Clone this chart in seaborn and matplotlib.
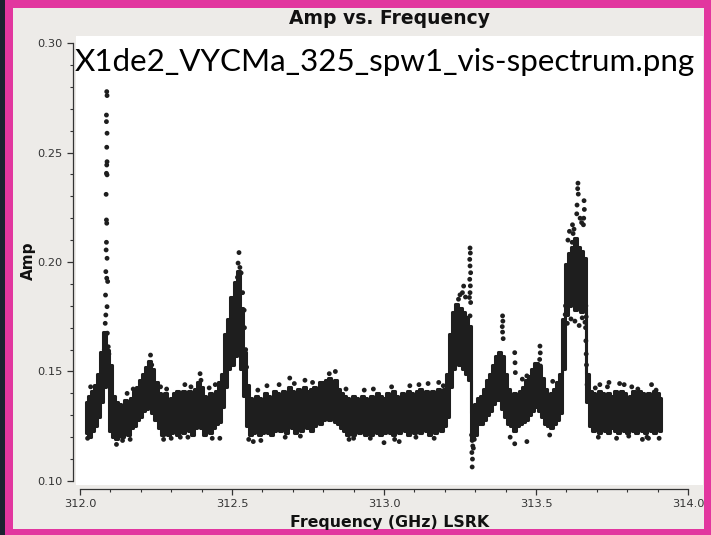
import matplotlib
matplotlib.use("Agg")
import matplotlib.pyplot as plt
from matplotlib.patches import Rectangle
from matplotlib.ticker import MultipleLocator, FormatStrFormatter
import seaborn as sns

# Channel frequencies (GHz) with the lower / upper edge of the dense amplitude cloud
chan_freq = [
    312.02, 312.03, 312.04, 312.05, 312.06, 312.07, 312.08, 312.09, 312.10, 312.11,
    312.12, 312.13, 312.14, 312.15, 312.16, 312.17, 312.18, 312.19, 312.20, 312.21,
    312.22, 312.23, 312.24, 312.25, 312.26, 312.27, 312.28, 312.29, 312.30, 312.31,
    312.32, 312.33, 312.34, 312.35, 312.36, 312.37, 312.38, 312.39, 312.40, 312.41,
    312.42, 312.43, 312.44, 312.45, 312.46, 312.47, 312.48, 312.49, 312.50, 312.51,
    312.52, 312.53, 312.54, 312.55, 312.56, 312.57, 312.58, 312.59, 312.60, 312.61,
    312.62, 312.63, 312.64, 312.65, 312.66, 312.67, 312.68, 312.69, 312.70, 312.71,
    312.72, 312.73, 312.74, 312.75, 312.76, 312.77, 312.78, 312.79, 312.80, 312.81,
    312.82, 312.83, 312.84, 312.85, 312.86, 312.87, 312.88, 312.89, 312.90, 312.91,
    312.92, 312.93, 312.94, 312.95, 312.96, 312.97, 312.98, 312.99, 313.00, 313.01,
    313.02, 313.03, 313.04, 313.05, 313.06, 313.07, 313.08, 313.09, 313.10, 313.11,
    313.12, 313.13, 313.14, 313.15, 313.16, 313.17, 313.18, 313.19, 313.20, 313.21,
    313.22, 313.23, 313.24, 313.25, 313.26, 313.27, 313.28, 313.29, 313.30, 313.31,
    313.32, 313.33, 313.34, 313.35, 313.36, 313.37, 313.38, 313.39, 313.40, 313.41,
    313.42, 313.43, 313.44, 313.45, 313.46, 313.47, 313.48, 313.49, 313.50, 313.51,
    313.52, 313.53, 313.54, 313.55, 313.56, 313.57, 313.58, 313.59, 313.60, 313.61,
    313.62, 313.63, 313.64, 313.65, 313.66, 313.67, 313.68, 313.69, 313.70, 313.71,
    313.72, 313.73, 313.74, 313.75, 313.76, 313.77, 313.78, 313.79, 313.80, 313.81,
    313.82, 313.83, 313.84, 313.85, 313.86, 313.87, 313.88, 313.89, 313.90, 313.91,
]
amp_lo = [
    0.122, 0.120, 0.123, 0.125, 0.129, 0.136, 0.143, 0.145, 0.123, 0.120,
    0.119, 0.122, 0.120, 0.123, 0.121, 0.124, 0.125, 0.128, 0.129, 0.132,
    0.133, 0.136, 0.131, 0.128, 0.124, 0.121, 0.123, 0.121, 0.122, 0.123,
    0.121, 0.123, 0.122, 0.125, 0.123, 0.121, 0.124, 0.126, 0.124, 0.121,
    0.123, 0.122, 0.124, 0.126, 0.127, 0.134, 0.143, 0.151, 0.153, 0.157,
    0.159, 0.151, 0.139, 0.125, 0.121, 0.122, 0.124, 0.121, 0.122, 0.124,
    0.122, 0.121, 0.123, 0.125, 0.123, 0.124, 0.122, 0.125, 0.124, 0.122,
    0.125, 0.123, 0.126, 0.124, 0.123, 0.125, 0.127, 0.126, 0.128, 0.129,
    0.128, 0.129, 0.127, 0.126, 0.124, 0.123, 0.121, 0.122, 0.121, 0.123,
    0.122, 0.124, 0.121, 0.122, 0.121, 0.123, 0.122, 0.121, 0.122, 0.123,
    0.122, 0.121, 0.123, 0.122, 0.124, 0.123, 0.121, 0.124, 0.122, 0.123,
    0.122, 0.124, 0.123, 0.121, 0.123, 0.122, 0.124, 0.123, 0.125, 0.129,
    0.143, 0.151, 0.154, 0.153, 0.151, 0.149, 0.146, 0.119, 0.121, 0.126,
    0.126, 0.128, 0.130, 0.132, 0.135, 0.137, 0.137, 0.133, 0.129, 0.126,
    0.125, 0.123, 0.125, 0.126, 0.127, 0.128, 0.130, 0.132, 0.134, 0.132,
    0.129, 0.126, 0.125, 0.124, 0.126, 0.128, 0.131, 0.151, 0.176, 0.180,
    0.182, 0.178, 0.181, 0.177, 0.179, 0.136, 0.125, 0.123, 0.124, 0.122,
    0.124, 0.123, 0.122, 0.124, 0.123, 0.122, 0.125, 0.123, 0.122, 0.124,
    0.123, 0.122, 0.125, 0.123, 0.122, 0.124, 0.123, 0.122, 0.124, 0.123,
]
amp_hi = [
    0.136, 0.139, 0.141, 0.144, 0.149, 0.159, 0.168, 0.160, 0.153, 0.139,
    0.136, 0.135, 0.133, 0.137, 0.135, 0.138, 0.141, 0.143, 0.146, 0.149,
    0.152, 0.155, 0.151, 0.145, 0.140, 0.138, 0.140, 0.137, 0.138, 0.140,
    0.141, 0.138, 0.141, 0.139, 0.141, 0.138, 0.142, 0.145, 0.143, 0.139,
    0.138, 0.140, 0.139, 0.141, 0.145, 0.149, 0.167, 0.174, 0.184, 0.191,
    0.196, 0.179, 0.159, 0.144, 0.138, 0.137, 0.139, 0.138, 0.137, 0.140,
    0.139, 0.138, 0.141, 0.140, 0.138, 0.141, 0.140, 0.143, 0.141, 0.139,
    0.142, 0.141, 0.143, 0.141, 0.142, 0.143, 0.142, 0.145, 0.145, 0.146,
    0.147, 0.145, 0.146, 0.142, 0.140, 0.139, 0.138, 0.137, 0.139, 0.138,
    0.137, 0.139, 0.138, 0.137, 0.139, 0.138, 0.140, 0.139, 0.138, 0.140,
    0.139, 0.141, 0.139, 0.138, 0.140, 0.139, 0.141, 0.140, 0.139, 0.141,
    0.142, 0.140, 0.141, 0.139, 0.141, 0.140, 0.142, 0.139, 0.142, 0.149,
    0.167, 0.177, 0.181, 0.179, 0.177, 0.175, 0.171, 0.131, 0.135, 0.138,
    0.139, 0.142, 0.146, 0.149, 0.153, 0.157, 0.159, 0.157, 0.149, 0.142,
    0.139, 0.140, 0.139, 0.141, 0.143, 0.146, 0.148, 0.151, 0.154, 0.152,
    0.147, 0.142, 0.139, 0.140, 0.142, 0.145, 0.149, 0.174, 0.199, 0.204,
    0.207, 0.211, 0.207, 0.205, 0.202, 0.149, 0.141, 0.140, 0.139, 0.141,
    0.140, 0.138, 0.140, 0.139, 0.141, 0.139, 0.141, 0.140, 0.138, 0.139,
    0.141, 0.139, 0.141, 0.140, 0.138, 0.140, 0.139, 0.141, 0.140, 0.138,
]

# Individual samples standing out of the dense cloud (line peaks, dips, outliers)
pt_freq = [
    312.088, 312.089, 312.087, 312.087, 312.089, 312.088, 312.089, 312.088, 312.087, 312.089,
    312.086, 312.087, 312.088, 312.087, 312.086, 312.089, 312.085, 312.088, 312.091, 312.084,
    312.089, 312.085, 312.083, 312.090, 312.093, 312.095, 312.083, 312.080, 312.075, 312.072,
    312.097, 312.100,
    312.232, 312.228, 312.236, 312.395, 312.398,
    312.523, 312.520, 312.526, 312.530, 312.518, 312.535, 312.540, 312.541, 312.545, 312.548,
    312.505, 312.500,
    312.120, 312.140, 312.300, 312.330, 312.460, 312.555, 312.570, 312.900, 313.000, 313.050,
    313.430, 313.470, 313.850, 313.870,
    312.690, 312.740, 312.820, 312.840, 313.180, 313.710, 313.740, 313.790, 313.880,
    313.283, 313.284, 313.282, 313.283, 313.285, 313.282, 313.284, 313.283, 313.281, 313.285,
    313.283, 313.262, 313.258, 313.268, 313.250, 313.245,
    313.290, 313.291, 313.289, 313.292, 313.290, 313.288, 313.294, 313.297,
    313.390, 313.391, 313.389, 313.390, 313.392, 313.430, 313.431, 313.432, 313.470, 313.472,
    313.513, 313.514, 313.512, 313.515, 313.511,
    313.638, 313.637, 313.639, 313.635, 313.634, 313.658, 313.659, 313.657, 313.656, 313.620,
    313.622, 313.619, 313.625, 313.645, 313.650, 313.597, 313.596, 313.598, 313.590, 313.664,
    313.665, 313.663, 313.664, 313.665, 313.666, 313.668, 313.605, 313.610,
    313.603, 313.615, 313.628, 313.642, 313.652, 313.661,
    # ragged upper / lower edges of the baseline cloud
    312.035, 312.155, 312.175, 312.265, 312.285, 312.345, 312.365, 312.425, 312.445, 312.585,
    312.615, 312.655, 312.705, 312.765, 312.875, 312.935, 312.965, 313.025, 313.085, 313.115,
    313.145, 313.195, 313.455, 313.555, 313.695, 313.735, 313.775, 313.815, 313.835, 313.895,
    312.025, 312.165, 312.275, 312.355, 312.435, 312.595, 312.675, 312.725, 312.885, 312.955,
    313.035, 313.105, 313.165, 313.415, 313.545, 313.705, 313.765, 313.805, 313.865, 313.905,
]
pt_amp = [
    0.2778, 0.2760, 0.2671, 0.2641, 0.2588, 0.2524, 0.2458, 0.2443, 0.2405, 0.2398,
    0.2309, 0.2192, 0.2177, 0.2090, 0.2055, 0.2017, 0.1956, 0.1926, 0.1911, 0.1849,
    0.1796, 0.1758, 0.1720, 0.1675, 0.1613, 0.1580, 0.1660, 0.1600, 0.1550, 0.1500,
    0.1520, 0.1460,
    0.1575, 0.1540, 0.1530, 0.1490, 0.1460,
    0.2043, 0.1995, 0.1975, 0.1950, 0.1930, 0.1860, 0.1780, 0.1700, 0.1600, 0.1520,
    0.1820, 0.1760,
    0.1167, 0.1185, 0.1195, 0.1200, 0.1195, 0.1190, 0.1180, 0.1195, 0.1175, 0.1180,
    0.1170, 0.1180, 0.1190, 0.1195,
    0.1470, 0.1460, 0.1490, 0.1500, 0.1450, 0.1440, 0.1450, 0.1440, 0.1440,
    0.2064, 0.2041, 0.2012, 0.1982, 0.1951, 0.1921, 0.1891, 0.1860, 0.1838, 0.1815,
    0.1754, 0.1890, 0.1860, 0.1840, 0.1850, 0.1830,
    0.1064, 0.1100, 0.1130, 0.1160, 0.1185, 0.1210, 0.1150, 0.1190,
    0.1754, 0.1730, 0.1705, 0.1680, 0.1650, 0.1586, 0.1540, 0.1495, 0.1480, 0.1455,
    0.1616, 0.1585, 0.1555, 0.1525, 0.1495,
    0.2360, 0.2335, 0.2310, 0.2260, 0.2220, 0.2280, 0.2240, 0.2200, 0.2170, 0.2170,
    0.2130, 0.2090, 0.2150, 0.2200, 0.2180, 0.1800, 0.1760, 0.1720, 0.1580, 0.1800,
    0.1750, 0.1700, 0.1640, 0.1580, 0.1530, 0.1440, 0.2100, 0.2140,
    0.1720, 0.1740, 0.1730, 0.1710, 0.1745, 0.1725,
    0.1430, 0.1400, 0.1420, 0.1430, 0.1420, 0.1440, 0.1430, 0.1425, 0.1440, 0.1415,
    0.1435, 0.1440, 0.1445, 0.1450, 0.1420, 0.1415, 0.1420, 0.1430, 0.1435, 0.1440,
    0.1445, 0.1435, 0.1465, 0.1455, 0.1425, 0.1430, 0.1445, 0.1430, 0.1420, 0.1415,
    0.1195, 0.1190, 0.1190, 0.1200, 0.1195, 0.1185, 0.1200, 0.1205, 0.1190, 0.1195,
    0.1190, 0.1200, 0.1195, 0.1200, 0.1210, 0.1200, 0.1195, 0.1205, 0.1200, 0.1195,
]

x_ticks = [312.0, 312.5, 313.0, 313.5, 314.0]
y_ticks = [0.10, 0.15, 0.20, 0.25, 0.30]

DOT = "#1e1e1e"
PANEL = "#edebe8"
FRAME = "#e2369f"
EDGE = "#1b2230"

sns.set_style("ticks")
plt.rcParams["font.family"] = ["DejaVu Sans"]

fig = plt.figure(figsize=(7.11, 5.35), dpi=100)
fig.set_facecolor(FRAME)
fig.add_artist(Rectangle((0, 0), 5 / 711, 1, transform=fig.transFigure,
                         facecolor=EDGE, edgecolor="none", zorder=-2))
fig.add_artist(Rectangle((13 / 711, 6 / 535), 691 / 711, 521 / 535,
                         transform=fig.transFigure, facecolor=PANEL,
                         edgecolor="none", zorder=-1))

ax = fig.add_axes([75.7 / 711, 50 / 535, 627.3 / 711, 449 / 535])
ax.set_facecolor("white")

# dense cloud of samples: one block per channel between its lower and upper edge,
# outlined with a dot-wide stroke so the edges stay rounded
ax.fill_between(chan_freq, amp_lo, amp_hi, step="mid", facecolor=DOT,
                edgecolor=DOT, linewidth=2.2, joinstyle="round", zorder=2)

# isolated samples
sns.scatterplot(x=pt_freq, y=pt_amp, ax=ax, color=DOT, s=12,
                edgecolor="none", linewidth=0, zorder=3, legend=False)

ax.set_xlim(311.9859, 314.0493)
ax.set_ylim(0.09817, 0.3032)

ax.set_xticks(x_ticks)
ax.set_yticks(y_ticks)
ax.xaxis.set_major_formatter(FormatStrFormatter("%.1f"))
ax.yaxis.set_major_formatter(FormatStrFormatter("%.2f"))
ax.xaxis.set_minor_locator(MultipleLocator(0.1))
ax.yaxis.set_minor_locator(MultipleLocator(0.01))

for side in ("top", "right"):
    ax.spines[side].set_visible(False)
ax.spines["left"].set_position(("outward", 2.2))
ax.spines["bottom"].set_position(("outward", 2.9))
ax.spines["left"].set_bounds(0.10, 0.30)
ax.spines["bottom"].set_bounds(312.0, 314.0)
for side in ("left", "bottom"):
    ax.spines[side].set_color("#333333")
    ax.spines[side].set_linewidth(0.9)

ax.tick_params(which="major", direction="out", length=4.5, width=0.9,
               color="#333333", labelsize=8.2, labelcolor="#333333", pad=2.5)
ax.tick_params(which="minor", direction="out", length=2.5, width=0.8,
               color="#333333")

ax.set_title("Amp vs. Frequency", fontsize=13.5, fontweight="bold",
             color="#111111", y=1.040, pad=0, va="center")
ax.set_xlabel("Frequency (GHz) LSRK", fontsize=11.3, fontweight="bold", color="#111111")
ax.set_ylabel("Amp", fontsize=11, fontweight="bold", color="#111111")
ax.xaxis.set_label_coords(0.5, -0.066)
ax.yaxis.set_label_coords(-0.064, 0.5)

fig.text(75 / 711, 1 - 71 / 535, "X1de2_VYCMa_325_spw1_vis-spectrum.png",
         family=["Lato", "DejaVu Sans"], fontsize=22.6, color="black",
         ha="left", va="baseline")

fig.savefig("out.png", dpi=100, facecolor=fig.get_facecolor())
